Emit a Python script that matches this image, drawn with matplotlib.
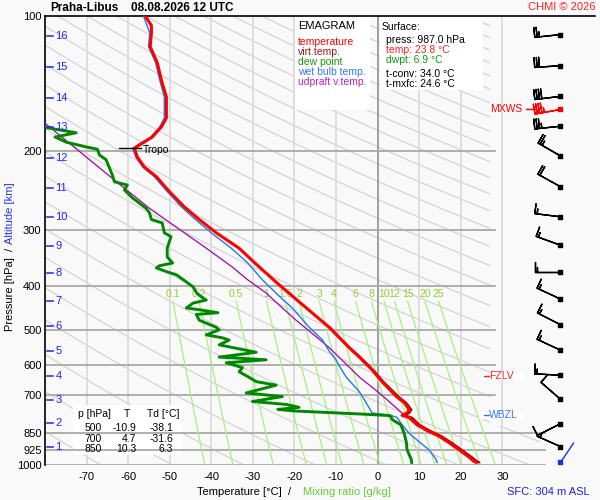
import numpy as np
import matplotlib
matplotlib.use('Agg')
import matplotlib.pyplot as plt
from matplotlib.patches import Rectangle, Polygon
from matplotlib.transforms import blended_transform_factory
from matplotlib.ticker import NullLocator

plt.rcParams['font.family'] = ['Liberation Sans', 'DejaVu Sans']

# ---------------- data ----------------
temp_p = [100, 105, 109, 117, 127, 139, 151.5, 168.7, 176.6, 186, 192, 197, 206, 217, 228, 246,
          266, 284, 304, 329, 355, 393, 429, 493, 547, 575, 614, 653, 688, 706, 726, 753, 766,
          775, 784, 814, 836, 863, 892, 925, 960, 982, 987]
temp_t = [-55.9, -54.4, -54.4, -54.7, -53.0, -52.0, -50.8, -50.8, -52.0, -54.2, -56.6, -58.5, -57.8,
          -56.1, -53.2, -50.1, -46.5, -42.9, -38.8, -33.3, -29.5, -24.2, -19.4, -11.7, -6.9, -4.4,
          -1.3, 1.1, 3.5, 4.7, 6.4, 7.6, 7.1, 5.9, 7.6, 9.5, 11.7, 14.8, 17.2, 19.6, 22.0, 23.2, 23.8]

virt_p = [493, 547, 575, 614, 653, 688, 706, 726, 753, 766, 775, 784, 814, 836, 863, 892, 925, 960, 982, 987]
virt_t = [-11.5, -6.7, -4.1, -1.0, 1.5, 4.0, 5.2, 6.9, 8.2, 7.7, 6.6, 8.3, 10.2, 12.4, 15.5, 17.9,
          20.3, 22.7, 23.9, 24.4]

dew_p = [172, 177, 182, 186, 191, 196, 198, 204, 209, 226, 234, 238, 244, 254, 268, 274, 284, 289,
         304, 310, 329, 344, 355, 360, 364, 371, 377, 391, 401, 414, 425, 429, 436, 447, 451, 458,
         462, 476, 493, 500, 513, 521, 527, 540, 561, 575, 583, 592, 607, 620, 638, 652, 664, 673,
         691, 704, 722, 733, 744, 752, 758, 764, 770, 776, 780, 792, 814, 850, 888, 925, 972, 987]
dew_t = [-84, -80.1, -72.5, -77.6, -74.9, -69.8, -67.4, -66.9, -65.3, -63.8, -63.3, -60.2, -60.9,
         -59.0, -55.7, -54.9, -54.4, -51.8, -51.3, -49.7, -50.6, -50.6, -49.3, -52.5, -53.2, -50.8,
         -48.4, -46.0, -44.4, -43.5, -42.0, -41.2, -44.4, -46.0, -42.9, -38.4, -43.6, -42.9, -38.9,
         -38.1, -41.2, -37.3, -35.7, -38.1, -29.2, -38.1, -26.8, -36.4, -32.5, -33.3, -30.9, -29.2,
         -24.4, -26.8, -31.6, -22.9, -30.1, -22.0, -18.9, -24.0, -20.0, -12.0, -4.0, 2.8, 3.2, 3.5,
         5.6, 6.4, 6.9, 7.1, 8.1, 8.2]

wb_p = [100, 109, 117, 127, 139, 151.5, 168.7, 176.6, 186, 192, 197, 206, 217, 228, 246, 266, 284,
        304, 329, 355, 387, 422, 447, 493, 526, 560, 583, 600, 636, 687, 715, 766, 775, 784, 814,
        850, 888, 925, 972, 987]
wb_t = [-56.3, -54.8, -55.1, -53.4, -52.4, -51.3, -51.3, -52.4, -54.6, -57.0, -58.9, -58.2, -56.5,
        -53.7, -50.6, -47.2, -43.8, -40.0, -35.2, -31.2, -27.7, -23.5, -20.5, -16.5, -13.3, -11.5,
        -10.0, -9.3, -7.6, -4.4, -3.2, -1.3, 3.2, 4.7, 5.9, 7.6, 10.0, 12.4, 14.1, 14.3]

parcel_p = [165, 173, 232, 268, 329, 362, 387, 414, 440, 476, 547, 638, 691, 766, 814, 863, 925, 987]
parcel_t = [-83, -80.1, -63.3, -54.9, -41.2, -35.0, -31.2, -26.8, -23.7, -19.6, -11.7, -4.3, 0.4,
            5.9, 10.0, 14.9, 20.0, 24.6]

p_ticks = [100, 200, 300, 400, 500, 600, 700, 850, 925, 1000]
t_ticks = [-70, -60, -50, -40, -30, -20, -10, 0, 10, 20, 30]
mix_ratios = [0.1, 0.2, 0.5, 1, 1.5, 2, 3, 4, 6, 8, 10, 12, 15, 20, 25]
mix_labels = ['0.1', '0.2', '0.5', '1', '1.5', '2', '3', '4', '6', '8', '10', '12', '15', '20', '25']

alt_km = list(range(1, 17))
alt_p = [910, 808, 717, 633, 557, 490, 431, 374, 326, 280, 241, 207, 177, 152, 130, 111]

wind_p = [110, 129, 151, 176, 205, 240, 280, 324, 371, 427, 487, 555, 631, 714, 809, 910]
wind_dir = [264, 266, 263, 264, 300, 299, 277, 290, 270, 295, 297, 295, 273, 311, 243, 294]
wind_spd = [25, 30, 40, 35, 25, 20, 15, 15, 15, 15, 15, 15, 15, 10, 10, 5]
mxws_p, mxws_dir, mxws_spd = 161, 260, 45
sfc_wind_dir, sfc_wind_spd = 34, 2

sfc_press, sfc_temp, sfc_dwpt, t_conv, t_mxfc = 987.0, 23.8, 6.9, 34.0, 24.6
tab_p = [500, 700, 850]
tab_t = [-10.9, 4.7, 10.3]
tab_td = [-38.1, -31.6, 6.3]
tropo_p, tropo_t = 197, -58.5
fzlv_p, wbzl_p = 635, 775

# ---------------- figure ----------------
W, H = 600, 500
BG = '#f9f9f9'
fig = plt.figure(figsize=(6, 5), dpi=100)
fig.patch.set_facecolor(BG)
ax = fig.add_axes([45 / W, 1 - 465 / H, 550 / W, 449 / H])
ax.set_facecolor(BG)
ax.set_yscale('log')
ax.set_ylim(1000, 100)
ax.set_xlim(-80, 52.3)
for s in ['right', 'bottom']:
    ax.spines[s].set_visible(False)
for s in ['top', 'left']:
    ax.spines[s].set_linewidth(1.2)
    ax.spines[s].set_color('black')

ax.set_yticks(p_ticks)
ax.set_yticklabels([str(p) for p in p_ticks])
ax.yaxis.set_minor_locator(NullLocator())
ax.set_xticks(t_ticks)
ax.set_xticklabels([str(t) for t in t_ticks])
ax.tick_params(axis='x', length=0, pad=5, labelsize=8)
ax.tick_params(axis='y', length=0, pad=2.5, labelsize=8)


def F(x, y):
    return x / W, 1 - y / H


# background diagonal lines
clip = Polygon([(-80, 100), (27, 100), (27, 820), (39, 820), (39, 1000), (-80, 1000)],
               closed=True, transform=ax.transData, facecolor='none', edgecolor='none')
ax.add_patch(clip)
pp = np.geomspace(100, 1000, 150)
for k in range(-20, 22):
    th = 499 + 17.2 * k
    ln, = ax.plot(th * (pp / 1000) ** 0.39 - 273.15, pp, color='#d4d4d4', lw=0.9, zorder=1)
    ln.set_clip_path(clip)

# vertical grid
for t in t_ticks:
    ax.plot([t, t], [100, 1000], color='#999999' if t == 0 else '#dcdcdc',
            lw=1.3, zorder=1.1)

# horizontal grid
for p in p_ticks[1:]:
    xe = 28.2 if p <= 700 else 40.3
    ax.plot([-80, xe], [p, p], color='#a9a9a9', lw=1.3, zorder=2)

# mixing ratio lines
pm = np.linspace(432, 1000, 50)
for w, lab in zip(mix_ratios, mix_labels):
    e = w * pm / (622.0 + w)
    L = np.log(e / 6.112)
    td = 243.5 * L / (17.67 - L)
    ax.plot(td, pm, color='#a8f080', lw=0.9, zorder=2.2)
    ax.text(td[0], 416, lab, color='#99cc33', fontsize=7.5, ha='center', va='center', zorder=2.3)

# boxes
tr = fig.transFigure
for (x0, y0, x1, y1, z) in [(295, 17, 370, 110, 3), (380, 17, 483, 90, 3), (73, 405, 182, 455, 1.5)]:
    ax.add_patch(Rectangle(F(x0, y1), (x1 - x0) / W, (y1 - y0) / H, transform=tr,
                           facecolor='white', edgecolor='none', zorder=z, clip_on=False))

# profiles
ax.plot(parcel_t, parcel_p, color='#aa00aa', lw=0.9, zorder=4.3)
ax.plot(virt_t, virt_p, color='#990000', lw=1.2, zorder=4.4)
ax.plot(wb_t, wb_p, color='#2277ee', lw=1.0, zorder=4.6)
ax.plot(dew_t, dew_p, color='#008800', lw=2.1, zorder=4.8)
ax.plot(temp_t, temp_p, color='#ff0000', lw=2.2, zorder=5)

# wind barbs
XB = 44.0
BL = 6.1
d = np.radians(wind_dir)
ws = np.array(wind_spd, float)
bs = dict(spacing=0.09, height=0.38, width=0.0, emptybarb=0.0)
ax.barbs([XB] * len(wind_p), wind_p, -ws * np.sin(d), -ws * np.cos(d), length=BL,
         pivot='tip', sizes=bs, linewidth=1.0, color='black', clip_on=False, zorder=6)
dm = np.radians(mxws_dir)
ax.barbs([XB], [mxws_p], [-mxws_spd * np.sin(dm)], [-mxws_spd * np.cos(dm)], length=BL,
         pivot='tip', sizes=bs, linewidth=1.0, color='red', clip_on=False, zorder=6)
ax.scatter([XB] * len(wind_p), wind_p, marker='s', s=5, color='black', zorder=7, clip_on=False)
ax.scatter([XB], [mxws_p], marker='s', s=5, color='red', zorder=7, clip_on=False)
ds = np.radians(sfc_wind_dir)
ax.annotate('', xy=(XB, sfc_press), xytext=(17 * np.sin(ds), 17 * np.cos(ds)),
            textcoords='offset points',
            arrowprops=dict(arrowstyle='-', color='#1133ee', lw=1.0, shrinkA=0, shrinkB=0),
            zorder=6)
ax.scatter([XB], [sfc_press], marker='s', s=6, color='#1133ee', zorder=7, clip_on=False)

# MXWS label
ax.plot([35.7, 37.9], [mxws_p, mxws_p], color='red', lw=1, zorder=6)
ax.text(34.9, mxws_p, 'MXWS', color='red', fontsize=7.5, ha='right', va='center', zorder=6)

# FZLV / WBZL
for pz, lab, col in [(fzlv_p, 'FZLV', '#ff2020'), (wbzl_p, 'WBZL', '#3377ff')]:
    ax.add_patch(Rectangle((24.5, pz / 1.018), 10.8, pz * 1.018 - pz / 1.018, facecolor='white',
                           edgecolor='none', zorder=5.5))
    ax.plot([25.5, 26.8], [pz, pz], color=col, lw=1, zorder=6)
    ax.text(26.9, pz, lab, color=col, fontsize=7.5, ha='left', va='center', zorder=6)

# tropopause
ax.plot([tropo_t - 3.6, tropo_t + 1.7], [tropo_p, tropo_p], color='black', lw=1, zorder=6)
ax.text(tropo_t + 2.0, tropo_p * 1.01, 'Tropo', fontsize=7.5, ha='left', va='center', zorder=6)

# altitude ticks
bt = blended_transform_factory(ax.transAxes, ax.transData)
for km, p in zip(alt_km, alt_p):
    ax.plot([0.004, 0.0145], [p, p], color='#2222ff', lw=1.1, transform=bt, zorder=6,
            clip_on=False)
    ax.text(0.019, p, str(km), color='#2222ff', fontsize=8, ha='left', va='center',
            transform=bt, zorder=6)

# legend box text
fig.text(*F(298, 26), 'EMAGRAM', fontsize=8, va='center', ha='left')
leg = [('temperature', '#ff0000'), ('virt.temp.', '#aa1111'), ('dew point', '#119911'),
       ('wet bulb temp.', '#3377ff'), ('udpraft v.temp.', '#bb22bb')]
for i, (s, c) in enumerate(leg):
    fig.text(*F(298, 42 + 10 * i), s, color=c, fontsize=7.5, va='center', ha='left')

fig.text(*F(382, 27), 'Surface:', fontsize=7.5, va='center')
fig.text(*F(386, 40), f'press: {sfc_press:.1f} hPa', fontsize=7.5, va='center')
fig.text(*F(386, 50), f'temp: {sfc_temp:.1f} °C', fontsize=7.5, va='center', color='#ff2020')
fig.text(*F(386, 60), f'dwpt: {sfc_dwpt:.1f} °C', fontsize=7.5, va='center', color='#119911')
fig.text(*F(386, 74), f't-conv: {t_conv:.1f} °C', fontsize=7.5, va='center')
fig.text(*F(386, 84), f't-mxfc: {t_mxfc:.1f} °C', fontsize=7.5, va='center')

# table
fig.text(*F(78, 414), 'p [hPa]', fontsize=7.5, va='center')
fig.text(*F(127, 414), 'T', fontsize=7.5, va='center', ha='center')
fig.text(*F(147, 414), 'Td [°C]', fontsize=7.5, va='center')
for i, (p, t, td) in enumerate(zip(tab_p, tab_t, tab_td)):
    y = 428 + 10.5 * i
    fig.text(*F(102, y), str(p), fontsize=7.5, va='center', ha='right')
    fig.text(*F(136, y), f'{t:.1f}', fontsize=7.5, va='center', ha='right')
    fig.text(*F(173, y), f'{td:.1f}', fontsize=7.5, va='center', ha='right')

# titles and labels
fig.text(*F(50, 8), 'Praha-Libus', fontsize=8.5, fontweight='bold', va='center')
fig.text(*F(131, 8), '08.08.2026 12 UTC', fontsize=8.5, fontweight='bold', va='center')
fig.text(*F(595, 7), 'CHMI © 2026', fontsize=8, color='#ff2020', va='center', ha='right')
fig.text(*F(197, 492), 'Temperature [°C]  /', fontsize=8, va='center')
fig.text(*F(303, 492), 'Mixing ratio [g/kg]', fontsize=8, va='center', color='#66cc33')
fig.text(*F(590, 492), 'SFC: 304 m ASL', fontsize=8, va='center', ha='right', color='#2222dd')
fig.text(*F(10, 294), 'Pressure [hPa]', fontsize=8, rotation=90, va='center', ha='center')
fig.text(*F(10, 249), '/', fontsize=8, rotation=90, va='center', ha='center')
fig.text(*F(10, 213), 'Altitude [km]', fontsize=8, rotation=90, va='center', ha='center',
         color='#2233ee')

fig.savefig('out.png', dpi=100, facecolor=fig.get_facecolor())
